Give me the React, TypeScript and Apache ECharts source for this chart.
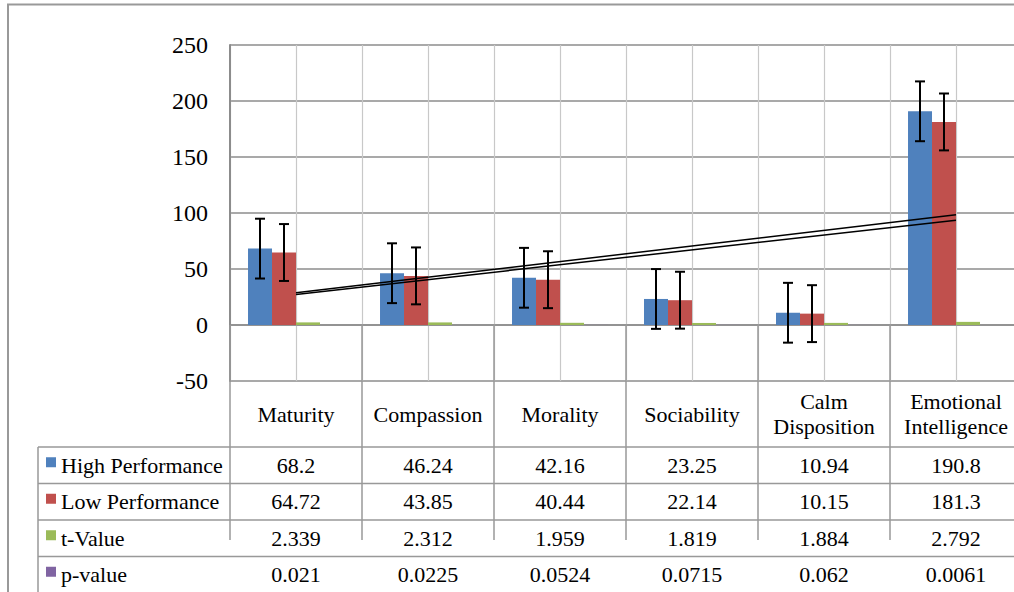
import React, { useEffect, useRef } from "react";
import * as echarts from "echarts";

const categories = ["Maturity", "Compassion", "Morality", "Sociability", "Calm\nDisposition", "Emotional\nIntelligence"];
const highPerf = [68.2, 46.24, 42.16, 23.25, 10.94, 190.8];
const lowPerf = [64.72, 43.85, 40.44, 22.14, 10.15, 181.3];
const tValue = [2.339, 2.312, 1.959, 1.819, 1.884, 2.792];
const pValue = [0.021, 0.0225, 0.0524, 0.0715, 0.062, 0.0061];
const highErr = [26.7, 26.7, 26.7, 26.7, 26.7, 26.7];
const lowErr = [25.4, 25.4, 25.4, 25.4, 25.4, 25.4];
const highTrend = [28.7, 98.5];
const lowTrend = [27.3, 93.5];
const seriesNames = ["High Performance", "Low Performance", "t-Value", "p-value"];
const seriesColors = ["#4F81BD", "#C0504D", "#9BBB59", "#8064A2"];
const yTicks = { min: -50, max: 250, interval: 50 };

const FONT = "Liberation Serif";
const GRID_LEFT = 230;
const GRID_TOP = 45;
const GRID_W = 792;
const GRID_H = 336;
const CAT_W = GRID_W / categories.length;
const GAP = 0.273;
const TABLE_TOP = GRID_TOP + GRID_H + 66;
const ROW_H = 36.5;
const TABLE_LEFT = 38;

function errorSeries(name: string, values: number[], errs: number[], offset: number) {
  return {
    type: "custom",
    name: name + " err",
    z: 5,
    silent: true,
    data: values.map((v, i) => [i, v, errs[i]]),
    encode: { x: 0, y: 1 },
    renderItem: (params: any, api: any) => {
      const idx = api.value(0);
      const v = api.value(1);
      const e = api.value(2);
      const c = api.coord([idx, v]);
      const catW = api.size([1, 0])[0];
      const bw = (catW * (1 - GAP)) / 4;
      const x = c[0] + offset * bw;
      const top = api.coord([idx, v + e])[1];
      const bot = api.coord([idx, v - e])[1];
      const cap = 5;
      const style = { stroke: "#000", lineWidth: 2 };
      return {
        type: "group",
        children: [
          { type: "line", shape: { x1: x, y1: top, x2: x, y2: bot }, style },
          { type: "line", shape: { x1: x - cap, y1: top, x2: x + cap, y2: top }, style },
          { type: "line", shape: { x1: x - cap, y1: bot, x2: x + cap, y2: bot }, style },
        ],
      };
    },
  };
}

export default function App() {
  const ref = useRef<HTMLDivElement>(null);
  useEffect(() => {
    if (!ref.current) return;
    const chart = echarts.init(ref.current, null, { renderer: "svg" });
    const rowValues = [highPerf, lowPerf, tValue, pValue];
    const graphics: any[] = [];
    graphics.push({
      type: "rect",
      shape: { x: 8, y: 4.5, width: 1200, height: 800 },
      style: { fill: "none", stroke: "#999", lineWidth: 2 },
      silent: true,
    });
    for (let r = 0; r < 4; r++) {
      const y0 = TABLE_TOP + r * ROW_H;
      graphics.push({
        type: "line",
        shape: { x1: TABLE_LEFT, y1: y0, x2: 1040, y2: y0 },
        style: { stroke: "#999", lineWidth: 1.5 },
        silent: true,
      });
      const cy = y0 + ROW_H / 2;
      graphics.push({
        type: "rect",
        shape: { x: 46, y: cy - 8, width: 10, height: 10 },
        style: { fill: seriesColors[r] },
        silent: true,
      });
      graphics.push({
        type: "text",
        x: 61,
        y: cy,
        style: { text: seriesNames[r], fontFamily: FONT, fontSize: 22, fill: "#000", align: "left", verticalAlign: "middle" },
        silent: true,
      });
      rowValues[r].forEach((v, i) => {
        graphics.push({
          type: "text",
          x: GRID_LEFT + CAT_W * (i + 0.5),
          y: cy,
          style: { text: String(v), fontFamily: FONT, fontSize: 22, fill: "#000", align: "center", verticalAlign: "middle" },
          silent: true,
        });
      });
    }
    graphics.push({
      type: "line",
      shape: { x1: TABLE_LEFT, y1: TABLE_TOP, x2: TABLE_LEFT, y2: 600 },
      style: { stroke: "#999", lineWidth: 1.5 },
      silent: true,
    });

    chart.setOption({
      animation: false,
      grid: { left: GRID_LEFT, top: GRID_TOP, width: GRID_W, height: GRID_H, containLabel: false },
      xAxis: [
        {
          type: "category",
          data: categories,
          position: "bottom",
          axisLine: { show: true, lineStyle: { color: "#8c8c8c", width: 1.5 } },
          axisTick: { show: true, interval: 0, length: 215, lineStyle: { color: "#999", width: 1.5 } },
          axisLabel: {
            interval: 0,
            fontFamily: FONT,
            fontSize: 22,
            color: "#000",
            align: "center",
            verticalAlign: "middle",
            margin: 33,
            lineHeight: 25,
          },
          splitLine: { show: false },
        },
        {
          type: "value",
          min: 0,
          max: 12,
          interval: 1,
          position: "top",
          axisLine: { show: false },
          axisTick: { show: false },
          axisLabel: { show: false },
          splitLine: { show: true, lineStyle: { color: "#c8c8c8", width: 1.2 } },
        },
      ],
      yAxis: {
        type: "value",
        min: yTicks.min,
        max: yTicks.max,
        interval: yTicks.interval,
        axisLine: { show: true, lineStyle: { color: "#8c8c8c", width: 2 } },
        axisTick: { show: false },
        axisLabel: { fontFamily: FONT, fontSize: 24, color: "#000", margin: 22 },
        splitLine: { show: true, lineStyle: { color: "#8c8c8c", width: 1.5 } },
      },
      series: [
        ...[highPerf, lowPerf, tValue, pValue].map((d, i) => ({
          type: "bar",
          name: seriesNames[i],
          data: d,
          barGap: "0%",
          barCategoryGap: "27.3%",
          itemStyle: { color: seriesColors[i] },
          z: 3,
        })),
        errorSeries("High", highPerf, highErr, -1.5),
        errorSeries("Low", lowPerf, lowErr, -0.5),
        {
          type: "line",
          name: "High trend",
          data: [[0, highTrend[0]], [categories.length - 1, highTrend[1]]],
          symbol: "none",
          lineStyle: { color: "#000", width: 1.5 },
          z: 6,
        },
        {
          type: "line",
          name: "Low trend",
          data: [[0, lowTrend[0]], [categories.length - 1, lowTrend[1]]],
          symbol: "none",
          lineStyle: { color: "#000", width: 1.5 },
          z: 6,
        },
      ],
      graphic: graphics,
    });
    return () => chart.dispose();
  }, []);
  return (
    <div style={{ position: "fixed", left: 0, top: 0, width: 1014, height: 592, overflow: "hidden", background: "#fff" }}>
      <div ref={ref} style={{ width: 1040, height: 592 }} />
    </div>
  );
}
